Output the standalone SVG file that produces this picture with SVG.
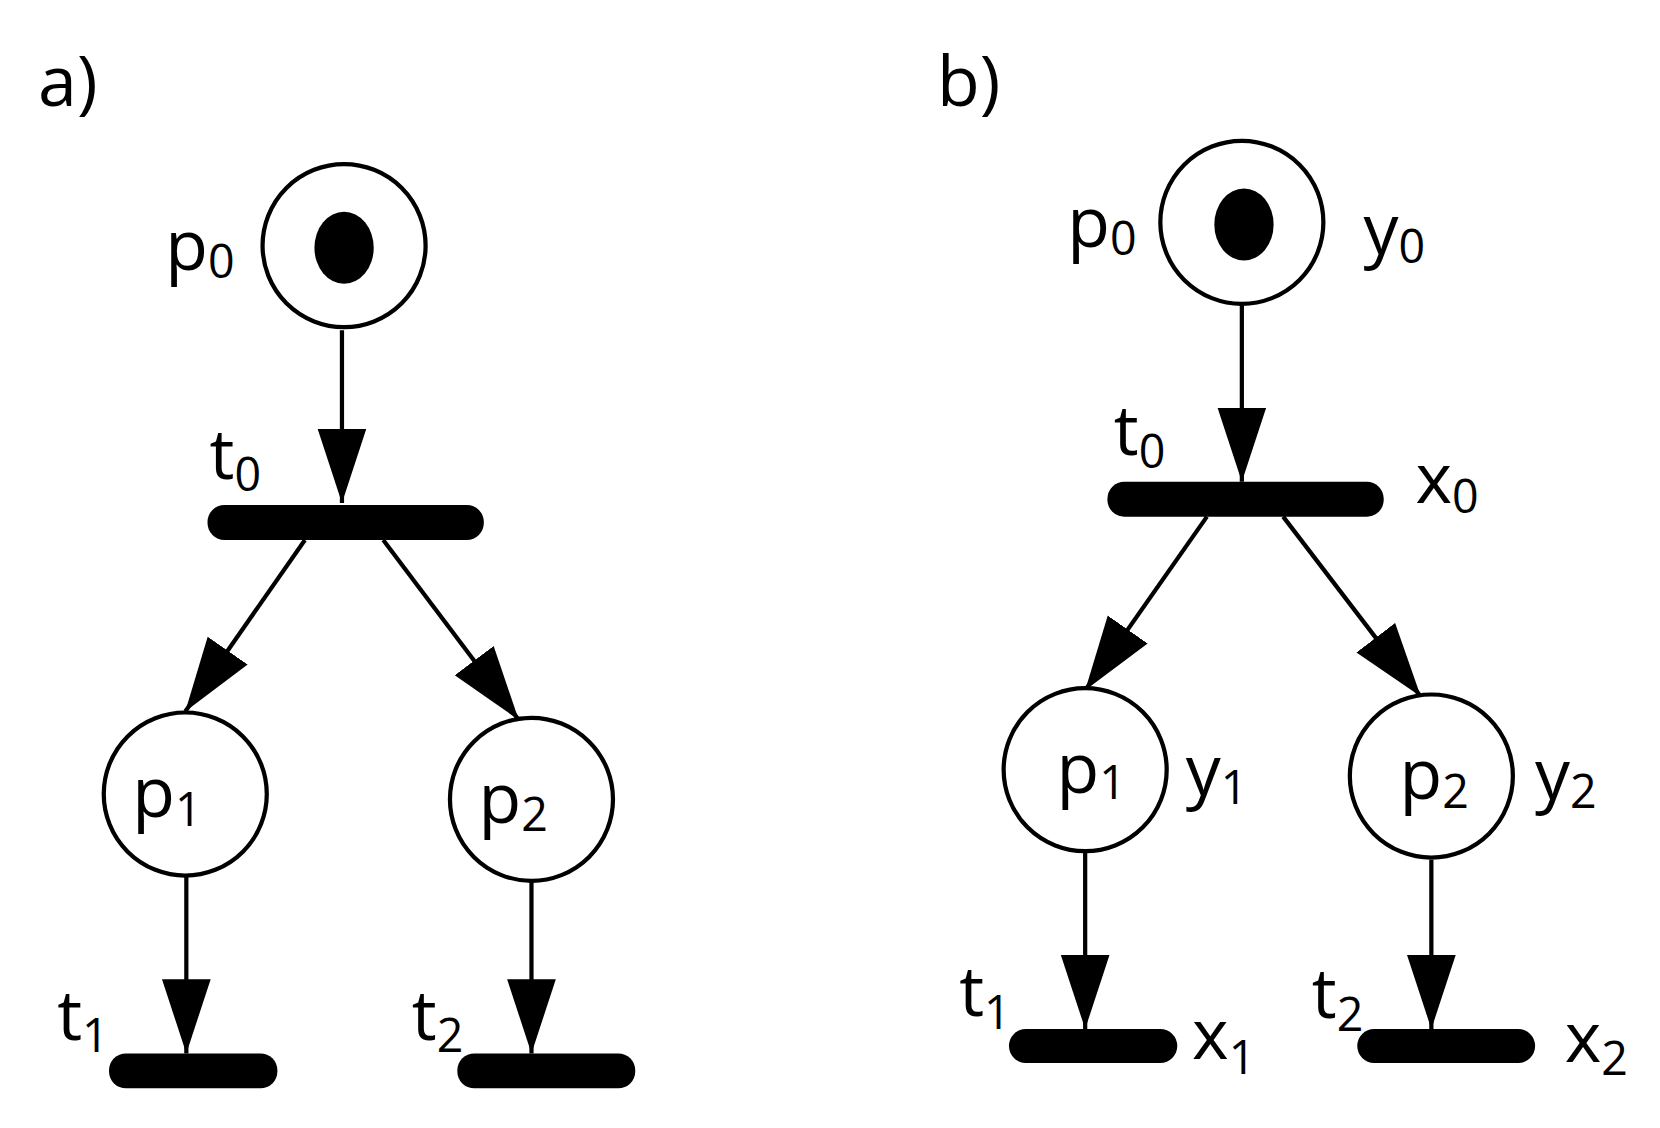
<svg xmlns="http://www.w3.org/2000/svg" width="1660" height="1128" viewBox="0 0 1660 1128">
<style>
.pl{fill:#fff;stroke:#000;stroke-width:4}
.tr{fill:#000}
.tk{fill:#000}
text{font-family:"Open Sans","Liberation Sans",sans-serif;font-size:66px;fill:#000}
.sub{font-size:44px}
.c{stroke:#000;stroke-width:4;fill:none;marker-end:url(#ah)}
</style>
<defs>
<marker id="ah" markerUnits="userSpaceOnUse" markerWidth="72" markerHeight="48" refX="70" refY="23" orient="auto">
<path d="M0,0 L70,23 L0,46 Z" fill="#000"/>
</marker>
</defs>
<rect width="1660" height="1128" fill="#fff"/>
<g transform="scale(1.0587)">
<text x="36" y="100">a)</text>
<text x="885" y="100">b)</text>
<g id="connectors">
<path class="c" d="M323,312 L323,475"/>
<path class="c" d="M288,510 L175,672"/>
<path class="c" d="M362,510 L490,680"/>
<path class="c" d="M176,828 L176,995"/>
<path class="c" d="M502,833 L502,995"/>
<path class="c" d="M1173,288 L1173,455"/>
<path class="c" d="M1140,488 L1025,652"/>
<path class="c" d="M1212,488 L1342,658"/>
<path class="c" d="M1025,805 L1025,972"/>
<path class="c" d="M1352,812 L1352,972"/>
</g>
<g id="a_p0"><circle class="pl" cx="325" cy="232" r="77"/><ellipse class="tk" cx="325" cy="234" rx="28" ry="34"/><text x="156" y="255">p<tspan class="sub" dy="8">0</tspan></text></g>
<g id="a_t0"><rect class="tr" x="196" y="477" width="261" height="33" rx="16"/><text x="198" y="452">t<tspan class="sub" dy="12">0</tspan></text></g>
<g id="a_p1"><circle class="pl" cx="175" cy="750" r="77"/><text x="125" y="772">p<tspan class="sub" dy="8">1</tspan></text></g>
<g id="a_p2"><circle class="pl" cx="502" cy="755" r="77"/><text x="452" y="777">p<tspan class="sub" dy="8">2</tspan></text></g>
<g id="a_t1"><rect class="tr" x="103" y="995" width="159" height="33" rx="16"/><text x="54" y="982">t<tspan class="sub" dy="12">1</tspan></text></g>
<g id="a_t2"><rect class="tr" x="432" y="995" width="168" height="33" rx="16"/><text x="389" y="982">t<tspan class="sub" dy="12">2</tspan></text></g>
<g id="b_p0"><circle class="pl" cx="1173" cy="210" r="77"/><ellipse class="tk" cx="1175" cy="212" rx="28" ry="34"/><text x="1008" y="233">p<tspan class="sub" dy="8">0</tspan></text><text x="1288" y="240">y<tspan class="sub" dy="8">0</tspan></text></g>
<g id="b_t0"><rect class="tr" x="1046" y="455" width="261" height="33" rx="16"/><text x="1052" y="430">t<tspan class="sub" dy="12">0</tspan></text><text x="1337" y="475">x<tspan class="sub" dy="10">0</tspan></text></g>
<g id="b_p1"><circle class="pl" cx="1025" cy="727" r="77"/><text x="998" y="749">p<tspan class="sub" dy="6">1</tspan></text><text x="1120" y="751">y<tspan class="sub" dy="8">1</tspan></text></g>
<g id="b_p2"><circle class="pl" cx="1352" cy="733" r="77"/><text x="1322" y="755">p<tspan class="sub" dy="8">2</tspan></text><text x="1450" y="755">y<tspan class="sub" dy="8">2</tspan></text></g>
<g id="b_t1"><rect class="tr" x="953" y="972" width="159" height="32" rx="16"/><text x="906" y="960">t<tspan class="sub" dy="12">1</tspan></text><text x="1126" y="1000">x<tspan class="sub" dy="14">1</tspan></text></g>
<g id="b_t2"><rect class="tr" x="1282" y="972" width="168" height="32" rx="16"/><text x="1239" y="962">t<tspan class="sub" dy="12">2</tspan></text><text x="1478" y="1003">x<tspan class="sub" dy="12">2</tspan></text></g>
</g>
</svg>
